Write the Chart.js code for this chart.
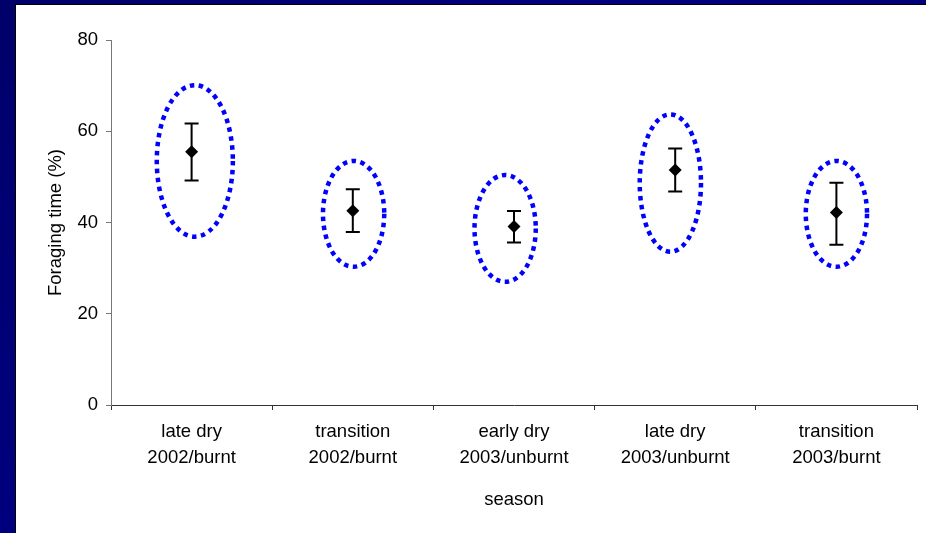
<!DOCTYPE html>
<html>
<head>
<meta charset="utf-8">
<script src="https://cdn.jsdelivr.net/npm/chart.js@4.4.1/dist/chart.umd.min.js"></script>
<style>
  html, body { margin: 0; padding: 0; }
  body { width: 926px; height: 533px; overflow: hidden; position: relative;
         background: linear-gradient(135deg, #00006a 0%, #000080 40%, #000078 70%, #00008a 100%); }
  #frame { position: absolute; left: 15px; top: 4px; width: 911px; height: 529px;
           border-left: 1px solid #000; border-top: 1px solid #000; background: #fff; }
  #wrap { position: absolute; left: 0; top: 0; width: 910px; height: 528px; }
</style>
</head>
<body>
<div id="frame"><div id="wrap"><canvas id="c" width="910" height="528"></canvas></div></div>
<script>
// ---- data ----
const categories = [["late dry", "2002/burnt"], ["transition", "2002/burnt"], ["early dry", "2003/unburnt"], ["late dry", "2003/unburnt"], ["transition", "2003/burnt"]];
const foragingMean = [55.5, 42.6, 39.1, 51.5, 42.2];
const errorUpper = [61.7, 47.3, 42.5, 56.2, 48.7];
const errorLower = [49.2, 37.9, 35.6, 46.8, 35.1];
// hand-drawn dotted ellipses (annotation), in value units
const ellipseTop = [70.1, 53.5, 50.4, 63.7, 53.5];
const ellipseBottom = [36.9, 30.3, 27.0, 33.6, 30.3];
const ellipseCenter = [0.02, 1.005, 1.945, 2.97, 4.0];   // category position
const ellipseHalfWidth = [0.236, 0.19, 0.19, 0.19, 0.19]; // category units
const yTicks = [0, 20, 40, 60, 80];

const overlay = {
  id: 'overlay',
  afterDatasetsDraw(chart) {
    const ctx = chart.ctx;
    const xs = chart.scales.x, ys = chart.scales.y;
    ctx.save();
    // ellipses
    ctx.strokeStyle = '#0000ff';
    ctx.lineWidth = 4.5;
    ctx.setLineDash([4.5, 4.5]);
    ctx.lineCap = 'butt';
    for (let i = 0; i < ellipseTop.length; i++) {
      const cx = xs.getPixelForValue(ellipseCenter[i]);
      const rx = Math.abs(xs.getPixelForValue(ellipseCenter[i] + ellipseHalfWidth[i]) - cx);
      const t = ys.getPixelForValue(ellipseTop[i]);
      const b = ys.getPixelForValue(ellipseBottom[i]);
      ctx.beginPath();
      ctx.ellipse(cx, (t + b) / 2, rx, (b - t) / 2, 0, 0, Math.PI * 2);
      ctx.stroke();
    }
    // error bars
    ctx.setLineDash([]);
    ctx.strokeStyle = '#000';
    ctx.lineWidth = 2;
    for (let i = 0; i < foragingMean.length; i++) {
      const x = xs.getPixelForValue(i);
      const t = ys.getPixelForValue(errorUpper[i]);
      const b = ys.getPixelForValue(errorLower[i]);
      ctx.beginPath();
      ctx.moveTo(x, t); ctx.lineTo(x, b);
      ctx.moveTo(x - 7, t); ctx.lineTo(x + 7, t);
      ctx.moveTo(x - 7, b); ctx.lineTo(x + 7, b);
      ctx.stroke();
    }
    ctx.restore();
  }
};

new Chart(document.getElementById('c'), {
  type: 'line',
  data: {
    labels: categories,
    datasets: [{
      data: foragingMean,
      showLine: false,
      pointStyle: 'rectRot',
      pointRadius: 6.5,
      pointHoverRadius: 6.5,
      backgroundColor: '#000',
      borderColor: '#000',
      borderWidth: 0
    }]
  },
  options: {
    responsive: false,
    animation: false,
    events: [],
    layout: { padding: { left: 0, top: 35, right: 9, bottom: 0 } },
    plugins: { legend: { display: false }, tooltip: { enabled: false } },
    scales: {
      x: {
        offset: true,
        grid: { display: true, offset: true, drawOnChartArea: false, drawTicks: true, tickLength: 5, color: '#333' },
        border: { display: true, color: '#333', width: 1 },
        ticks: { color: '#000', font: { family: 'Liberation Sans, Arial, sans-serif', size: 18.5, lineHeight: 1.45 }, padding: 8, maxRotation: 0, autoSkip: false },
        title: { display: true, text: 'season', color: '#000', font: { family: 'Liberation Sans, Arial, sans-serif', size: 18.5 }, padding: { top: 0, bottom: 22 } },
        afterFit(s) { s.height = 128; }
      },
      y: {
        min: 0, max: 80,
        afterBuildTicks(s) { s.ticks = yTicks.map(v => ({ value: v })); },
        grid: { display: true, drawOnChartArea: false, drawTicks: true, tickLength: 5, color: '#777' },
        border: { display: true, color: '#777', width: 1 },
        ticks: { color: '#000', font: { family: 'Liberation Sans, Arial, sans-serif', size: 18.5 }, padding: 8 },
        title: { display: true, text: 'Foraging time (%)', color: '#000', font: { family: 'Liberation Sans, Arial, sans-serif', size: 18.5 }, padding: { top: 29, bottom: 0 } },
        afterFit(s) { s.width = 95; }
      }
    }
  },
  plugins: [overlay]
});
</script>
</body>
</html>
